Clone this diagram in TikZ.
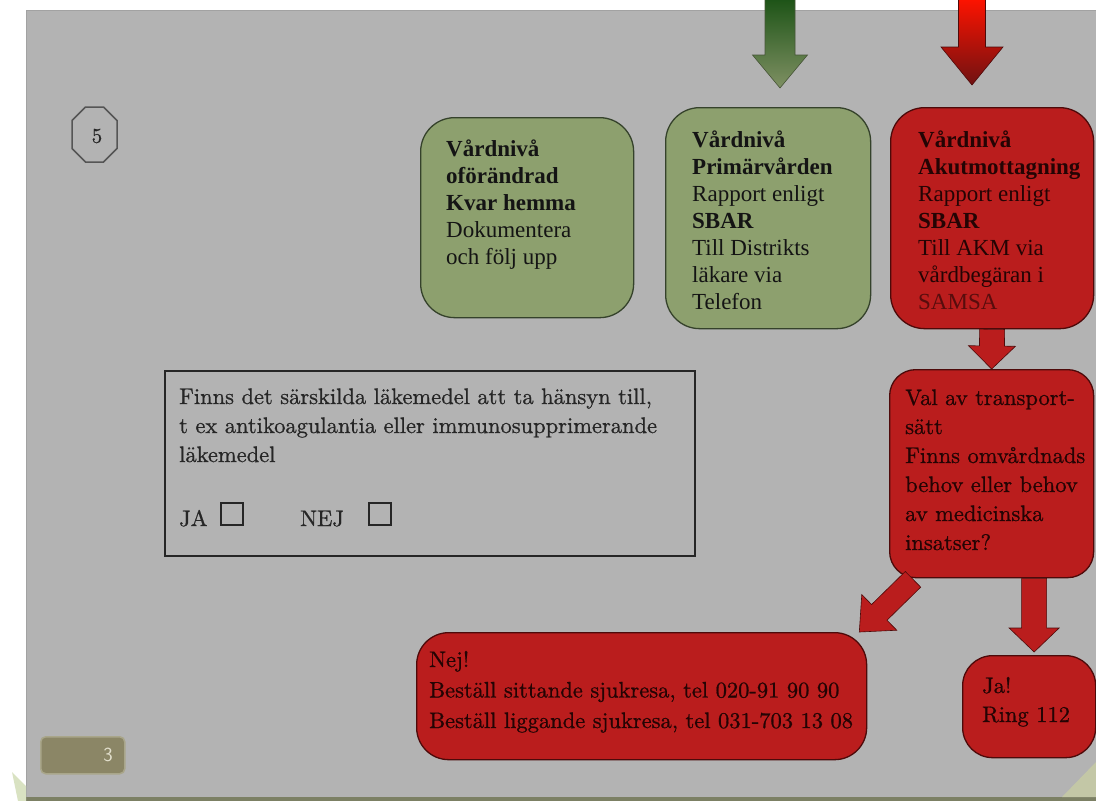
\documentclass[tikz,border=0pt]{standalone}
\usepackage{fontspec}
\usetikzlibrary{calc}
\newfontfamily\tnr{Liberation Serif}
\newfontfamily\minion[FakeBold=0.8]{lmroman10-regular.otf}
\definecolor{bggrey}{HTML}{B3B3B3}
\definecolor{edgegrey}{HTML}{A2A2A2}
\definecolor{strip}{HTML}{7C8064}
\definecolor{palegreen}{HTML}{D9E2C2}
\definecolor{bevel}{HTML}{C3C7A6}
\definecolor{boxgreen}{HTML}{8DA06E}
\definecolor{greenedge}{HTML}{35422B}
\definecolor{boxred}{HTML}{BA1D1D}
\definecolor{rededge}{HTML}{4D0A0A}
\definecolor{redtext}{HTML}{240404}
\definecolor{greentext}{HTML}{141414}
\definecolor{greytext}{HTML}{262626}
\definecolor{octgrey}{HTML}{555555}
\definecolor{badge}{HTML}{8B8666}
\definecolor{badgeedge}{HTML}{A9A68A}
\definecolor{badgetext}{HTML}{E2DFCC}
\begin{document}
\begin{tikzpicture}[x=1pt,y=-1pt,
  box/.style={anchor=north west, inner sep=0pt, line width=1.3pt},
  gbox/.style={box, rounded corners=34pt, fill=boxgreen, draw=greenedge},
  rbox/.style={box, fill=boxred, draw=rededge},
  topt/.style={font=\tnr\fontsize{23}{27}\selectfont, inner sep=0pt, anchor=base west},
  mint/.style={font=\minion\fontsize{22.5}{29}\selectfont, inner sep=0pt, anchor=base west},
  chk/.style={draw=greytext, line width=2pt, minimum size=22pt, inner sep=0pt, anchor=south west},
  blockarrow/.style n args={3}{to path={
     ($(\tikztotarget)!#3!(\tikztostart)$) coordinate (bah)
     ($(\tikztostart)!#1!90:(\tikztotarget)$)
     -- ($(bah)!#1!90:(\tikztotarget)$)
     -- ($(bah)!#2!90:(\tikztotarget)$)
     -- (\tikztotarget)
     -- ($(bah)!#2!-90:(\tikztotarget)$)
     -- ($(bah)!#1!-90:(\tikztotarget)$)
     -- ($(\tikztostart)!#1!-90:(\tikztotarget)$)
     -- cycle}},
  redarrow/.style={fill=boxred, draw=rededge, line width=0.6pt}
]
\useasboundingbox (0,0) rectangle (1096,801);
% page background
\fill[white] (0,0) rectangle (1096,801);
\fill[bggrey] (26,10) rectangle (1096,797);
\draw[edgegrey, line width=1pt] (26,797) -- (26,10) -- (1096,10);
\fill[strip] (26,797) rectangle (1096,801);
\fill[palegreen] (12,772) -- (26,786) -- (26,801) -- (18,801) -- cycle;
\fill[bevel] (1062,797) -- (1096,762) -- (1096,797) -- cycle;

% octagon with number
\draw[octgrey, line width=1.5pt] (85.5,107) -- (103.5,107) -- (117,120.5) -- (117,148.5)
   -- (103.5,162) -- (85.5,162) -- (72,148.5) -- (72,120.5) -- cycle;
\node[font=\minion\fontsize{21}{21}\selectfont, text=greytext] (oct) at (97,136) {5};

% boxes
\node[gbox, minimum width=213pt, minimum height=200pt] (A) at (420,117) {};
\node[gbox, minimum width=205pt, minimum height=221pt] (B) at (665,107) {};
\node[rbox, rounded corners=34pt, minimum width=203pt, minimum height=221pt] (C) at (890,107) {};
\node[rbox, rounded corners=26pt, minimum width=204pt, minimum height=208pt] (D) at (889,369) {};
\node[rbox, rounded corners=32pt, minimum width=450pt, minimum height=127pt] (E) at (416,632) {};
\node[rbox, rounded corners=30pt, minimum width=133pt, minimum height=102pt] (F) at (962,655) {};
\node[box, draw=greytext, line width=1.6pt, minimum width=530pt, minimum height=185pt] (G) at (164,370) {};

% texts
\node[topt, text=greentext] (At) at ([xshift=26pt,yshift=-39pt]A.north west)
  {\vtop{\hbox{\bfseries Vårdnivå}\hbox{\bfseries oförändrad}\hbox{\bfseries Kvar hemma}\hbox{Dokumentera}\hbox{och följ upp}}};
\node[topt, text=greentext] (Bt) at ([xshift=27pt,yshift=-40pt]B.north west)
  {\vtop{\hbox{\bfseries Vårdnivå}\hbox{\bfseries Primärvården}\hbox{Rapport enligt}\hbox{\bfseries SBAR}\hbox{Till Distrikts}\hbox{läkare via}\hbox{Telefon}}};
\node[topt, text=redtext] (Ct) at ([xshift=28pt,yshift=-40pt]C.north west)
  {\vtop{\hbox{\bfseries Vårdnivå}\hbox{\bfseries Akutmottagning}\hbox{Rapport enligt}\hbox{\bfseries SBAR}\hbox{Till AKM via}\hbox{vårdbegäran i}\hbox{\color{redtext!65!boxred}SAMSA}}};
\node[mint, text=redtext] (Dt) at ([xshift=16pt,yshift=-36pt]D.north west)
  {\vtop{\hbox{Val av transport-}\hbox{sätt}\hbox{Finns omvårdnads}\hbox{behov eller behov}\hbox{av medicinska}\hbox{insatser?}}};
\node[mint, text=redtext, font=\minion\fontsize{22.5}{30.5}\selectfont] (Et) at ([xshift=13pt,yshift=-35pt]E.north west)
  {\vtop{\hbox{Nej!}\hbox{Beställ sittande sjukresa, tel 020-91 90 90}\hbox{Beställ liggande sjukresa, tel 031-703 13 08}}};
\node[mint, text=redtext] (Ft) at ([xshift=20pt,yshift=-38pt]F.north west)
  {\vtop{\hbox{Ja!}\hbox{Ring 112}}};
\node[mint, text=greytext] (Gt) at ([xshift=15pt,yshift=-34pt]G.north west)
  {\vtop{\hbox{Finns det särskilda läkemedel att ta hänsyn till,}\hbox{t ex antikoagulantia eller immunosupprimerande}\hbox{läkemedel}}};
\node[mint, text=greytext] (ja) at ([xshift=15pt,yshift=-156pt]G.north west) {JA};
\node[chk] (jabox) at ([xshift=41pt]ja.base west) {};
\node[mint, text=greytext] (nej) at ([xshift=121pt]ja.base west) {NEJ};
\node[chk] (nejbox) at ([xshift=189pt]ja.base west) {};

% page badge
\node[anchor=north west, rounded corners=5pt, fill=badge, draw=badgeedge, line width=1.5pt,
      minimum height=37pt, text width=60pt, inner xsep=12pt, inner ysep=0pt, align=right,
      text=badgetext, font=\sffamily\fontsize{20}{20}\selectfont] (pg) at (40,736) {3};

% arrows
\coordinate (gtop) at (780,-2);
\coordinate (rtop) at (972,-2);
\path[blockarrow={15pt}{27.5pt}{33pt}, top color=green!25!black!80!boxgreen, bottom color=boxgreen!90!black, draw=greenedge!80!boxgreen, line width=0.6pt]
  (gtop) to ($(gtop |- B.north)+(0,-19)$);
\path[blockarrow={13.5pt}{31pt}{38pt}, top color=red!85!orange, bottom color=boxred!60!black, draw=rededge, line width=0.6pt]
  (rtop) to ($(rtop |- C.north)+(0,-22)$);
\path[redarrow, blockarrow={12.5pt}{23.5pt}{23pt}] (C.south) to (D.north);
\path[redarrow, blockarrow={12.5pt}{25pt}{24pt}] ($(F.north |- D.south)+(5,0)$) to ($(F.north)+(5,-3)$);
\path[redarrow, blockarrow={11pt}{25pt}{28pt}] ($(D.south west)+(24,1)$) to ($(E.north east)+(-8,0)$);
\end{tikzpicture}
\end{document}
